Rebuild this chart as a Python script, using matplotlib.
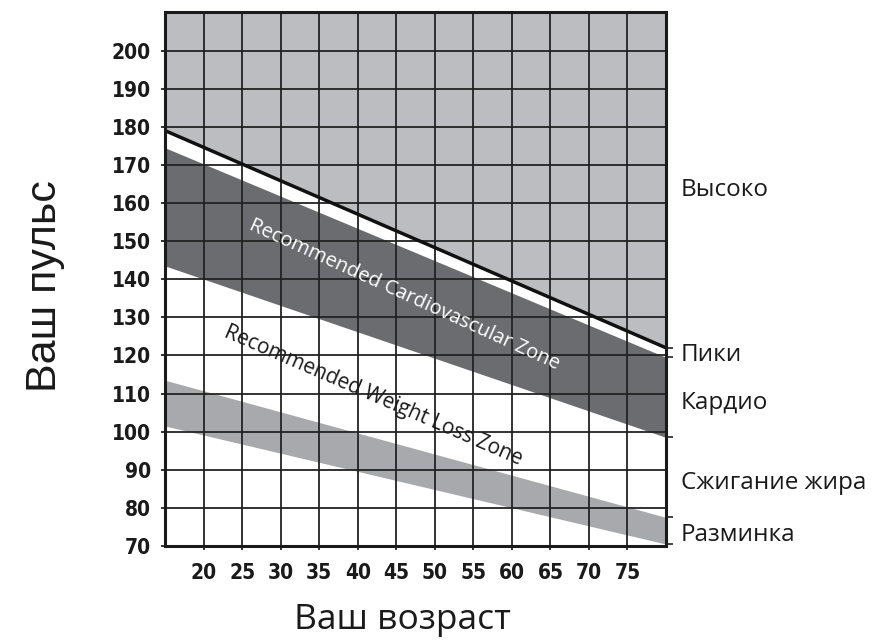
#Heart rate zones by age chart

import numpy as np
import matplotlib
matplotlib.use("Agg")
import matplotlib.pyplot as plt

ages = [15, 80]
max_hr = [179, 122]
cardio_top = [174.5, 119.5]
cardio_bottom = [143.5, 98.5]
warmup_top = [113.5, 77.5]
warmup_bottom = [101.5, 70.5]

x_ticks = [20, 25, 30, 35, 40, 45, 50, 55, 60, 65, 70, 75]
y_ticks = [70, 80, 90, 100, 110, 120, 130, 140, 150, 160, 170, 180, 190, 200]

zone_names = ["Высоко", "Пики", "Кардио", "Сжигание жира", "Разминка"]
zone_label_y = [163.5, 120, 107.5, 86.5, 73]

fig = plt.figure(figsize=(8.74, 6.4), dpi=100)
ax = fig.add_axes([0.1888, 0.1469, 0.5732, 0.8336])

ax.set_xlim(15, 80)
ax.set_ylim(70, 210)

#zones
ax.fill_between(ages, max_hr, [210, 210], color="#bcbdc0", lw=0, zorder=1)
ax.fill_between(ages, cardio_bottom, cardio_top, color="#6b6c6f", lw=0, zorder=1)
ax.fill_between(ages, warmup_bottom, warmup_top, color="#a8a9ac", lw=0, zorder=1)

#grid over the fills
for xv in x_ticks:
    ax.axvline(xv, color="#222222", lw=1.3, zorder=2)
for yv in y_ticks[1:]:
    ax.axhline(yv, color="#222222", lw=1.3, zorder=2)

ax.plot(ages, max_hr, color="#111111", lw=2.5, zorder=3)

for s in ax.spines.values():
    s.set_linewidth(2.2)
    s.set_color("#1a1a1a")
    s.set_zorder(4)

tick_font = dict(family="DejaVu Sans", weight="heavy", stretch="condensed", size=15)
ax.set_xticks(x_ticks)
ax.set_yticks(y_ticks)
ax.set_xticklabels([str(v) for v in x_ticks], fontdict=tick_font, color="#1a1a1a")
ax.set_yticklabels([str(v) for v in y_ticks], fontdict=tick_font, color="#1a1a1a")
ax.tick_params(length=3, width=1.3, color="#222222")
ax.tick_params(axis="x", pad=9)
ax.tick_params(axis="y", pad=7)

fig.text(402 / 874, 11 / 640, "Ваш возраст", family="Open Sans", fontsize=25.5,
         color="#1a1a1a", ha="center", va="baseline")
fig.text(45 / 874, 1 - 286 / 640, "Ваш пульс", family="Liberation Sans", fontsize=31,
         color="#1a1a1a", ha="center", va="center", rotation=90)

#zone edge ticks on the right
ax2 = ax.twinx()
ax2.set_ylim(70, 210)
ax2.set_yticks([max_hr[1], cardio_top[1], cardio_bottom[1], warmup_top[1], warmup_bottom[1]])
ax2.set_yticklabels([])
ax2.tick_params(length=5, width=1.2, color="#222222")
for s in ax2.spines.values():
    s.set_visible(False)

for name, yv in zip(zone_names, zone_label_y):
    ax.text(1.03, (yv - 70) / 140, name, transform=ax.transAxes, family="Open Sans",
            fontsize=17.5, color="#1a1a1a", va="center", ha="left")

ax.text(46, 136, "Recommended Cardiovascular Zone", family="Open Sans", fontsize=14.5,
        color="white", rotation=-24.5, ha="center", va="center", rotation_mode="anchor", zorder=5)
ax.text(42, 109.5, "Recommended Weight Loss Zone", family="Open Sans", fontsize=15,
        color="#1a1a1a", rotation=-23.5, ha="center", va="center", rotation_mode="anchor", zorder=5)

fig.savefig("out.png", dpi=100)
